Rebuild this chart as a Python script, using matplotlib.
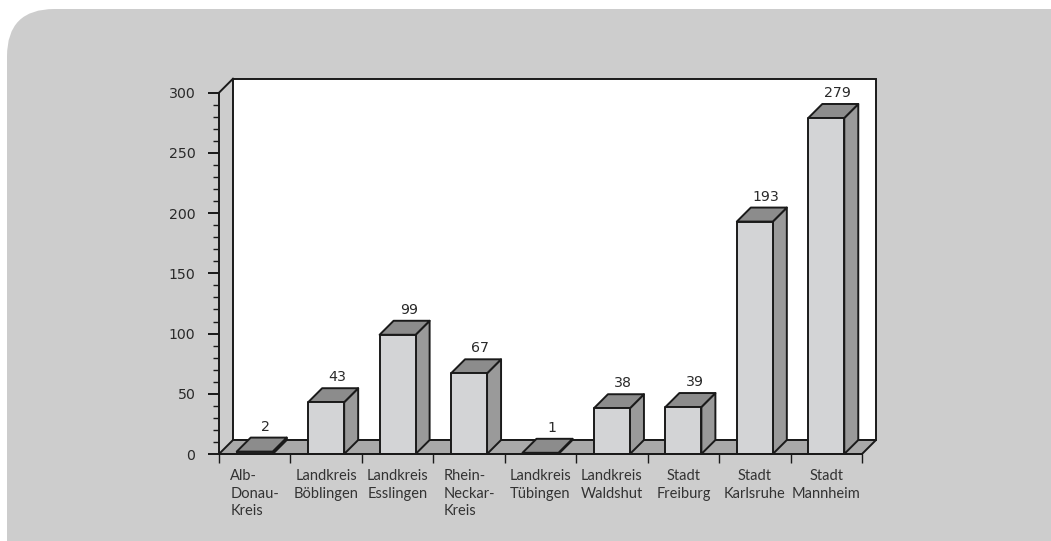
import matplotlib
matplotlib.use("Agg")
import matplotlib.pyplot as plt
from matplotlib.patches import Polygon, FancyBboxPatch
from matplotlib.ticker import MultipleLocator, FixedLocator, NullFormatter

# Data
categories = [
    "Alb-\nDonau-\nKreis",
    "Landkreis\nBöblingen",
    "Landkreis\nEsslingen",
    "Rhein-\nNeckar-\nKreis",
    "Landkreis\nTübingen",
    "Landkreis\nWaldshut",
    "Stadt\nFreiburg",
    "Stadt\nKarlsruhe",
    "Stadt\nMannheim",
]
values = [2, 43, 99, 67, 1, 38, 39, 193, 279]
y_ticks = [0, 50, 100, 150, 200, 250, 300]

# Styling
W, H, DPI = 1051, 541, 100
BG = "#cdcdcd"
FRONT = "#d3d4d6"
SIDE = "#9a9a9a"
TOP = "#8c8c8c"
FLOOR = "#a9a9a9"
EDGE = "#1a1a1a"
LW = 1.4
num_font = "DejaVu Sans"
cat_font = "Lato"

fig = plt.figure(figsize=(W / DPI, H / DPI), dpi=DPI)
fig.patch.set_facecolor("white")

# Rounded grey panel behind the chart
panel = FancyBboxPatch((7 / W, -0.2), 1.2, (H - 9) / H + 0.2,
                       boxstyle="round,pad=0,rounding_size=0.045",
                       transform=fig.transFigure, facecolor=BG,
                       edgecolor="none", mutation_aspect=W / H, zorder=-10)
fig.patches.append(panel)

# Front plane of the plot
x0, x1 = 219, 862
y0, y1 = 454, 92.7
ax = fig.add_axes([x0 / W, (H - y0) / H, (x1 - x0) / W, (y0 - y1) / H])
ax.set_facecolor("none")
ax.set_zorder(1)
n = len(categories)
ax.set_xlim(-0.5, n - 0.5)
ax.set_ylim(0, 300)

# Depth offset (14 px) expressed in data units
px_x = (x1 - x0) / n
px_y = (y0 - y1) / 300
DX = 14 / px_x
DY = 14 / px_y

xl, xr = -0.5, n - 0.5

# Back wall
wall = Polygon([(xl + DX, DY), (xr + DX, DY), (xr + DX, 300 + DY), (xl + DX, 300 + DY)],
               closed=True, facecolor="white", edgecolor=EDGE, lw=LW,
               clip_on=False, zorder=1)
ax.add_patch(wall)

# Floor
floor = Polygon([(xl, 0), (xr, 0), (xr + DX, DY), (xl + DX, DY)], closed=True,
                facecolor=FLOOR, edgecolor=EDGE, lw=LW, clip_on=False, zorder=2)
ax.add_patch(floor)

# Connector from the front axis top to the back wall corner
ax.plot([xl, xl + DX], [300, 300 + DY], color=EDGE, lw=LW, clip_on=False, zorder=2)

# Bars
bw = 36 / px_x
for i, v in enumerate(values):
    a, b = i - bw / 2, i + bw / 2
    side = Polygon([(b, 0), (b + DX, DY), (b + DX, v + DY), (b, v)], closed=True,
                   facecolor=SIDE, edgecolor=EDGE, lw=LW, clip_on=False, zorder=3,
                   joinstyle="round")
    top = Polygon([(a, v), (b, v), (b + DX, v + DY), (a + DX, v + DY)], closed=True,
                  facecolor=TOP, edgecolor=EDGE, lw=LW, clip_on=False, zorder=3,
                  joinstyle="round")
    front = Polygon([(a, 0), (b, 0), (b, v), (a, v)], closed=True,
                    facecolor=FRONT, edgecolor=EDGE, lw=LW, clip_on=False, zorder=4,
                    joinstyle="round")
    for p in (side, top, front):
        ax.add_patch(p)
    ax.annotate(str(v), xy=(i + DX * 0.8, v + DY), xytext=(0, 5),
                textcoords="offset points", ha="center", va="baseline",
                fontsize=10.2, family=num_font, color="#2a2a2a", zorder=5)

# Axes: front spines and ticks
for s in ("top", "right"):
    ax.spines[s].set_visible(False)
for s in ("left", "bottom"):
    ax.spines[s].set_linewidth(LW)
    ax.spines[s].set_color(EDGE)
    ax.spines[s].set_zorder(6)

ax.yaxis.set_major_locator(FixedLocator(y_ticks))
ax.yaxis.set_minor_locator(MultipleLocator(10))
ax.set_yticklabels([str(t) for t in y_ticks], family=num_font, fontsize=10.2,
                   color="#2a2a2a")
ax.tick_params(axis="y", which="major", direction="out", length=8, width=LW,
               color=EDGE, pad=9)
ax.tick_params(axis="y", which="minor", direction="out", length=4.3, width=1.0,
               color=EDGE)

ax.xaxis.set_major_locator(FixedLocator([k - 0.5 for k in range(n + 1)]))
ax.xaxis.set_major_formatter(NullFormatter())
ax.xaxis.set_minor_locator(FixedLocator(list(range(n))))
ax.set_xticklabels(categories, minor=True, family=cat_font, fontsize=10.5,
                   color="#333333", linespacing=1.32, va="top")
for lbl, name in zip(ax.get_xticklabels(minor=True), categories):
    # hyphenated names are set flush left within their block
    lbl.set_multialignment("left" if "-\n" in name else "center")
ax.tick_params(axis="x", which="major", direction="out", length=6.5, width=1.0,
               color=EDGE)
ax.tick_params(axis="x", which="minor", length=0, pad=11)

fig.savefig("out.png", dpi=DPI, facecolor=fig.get_facecolor())
